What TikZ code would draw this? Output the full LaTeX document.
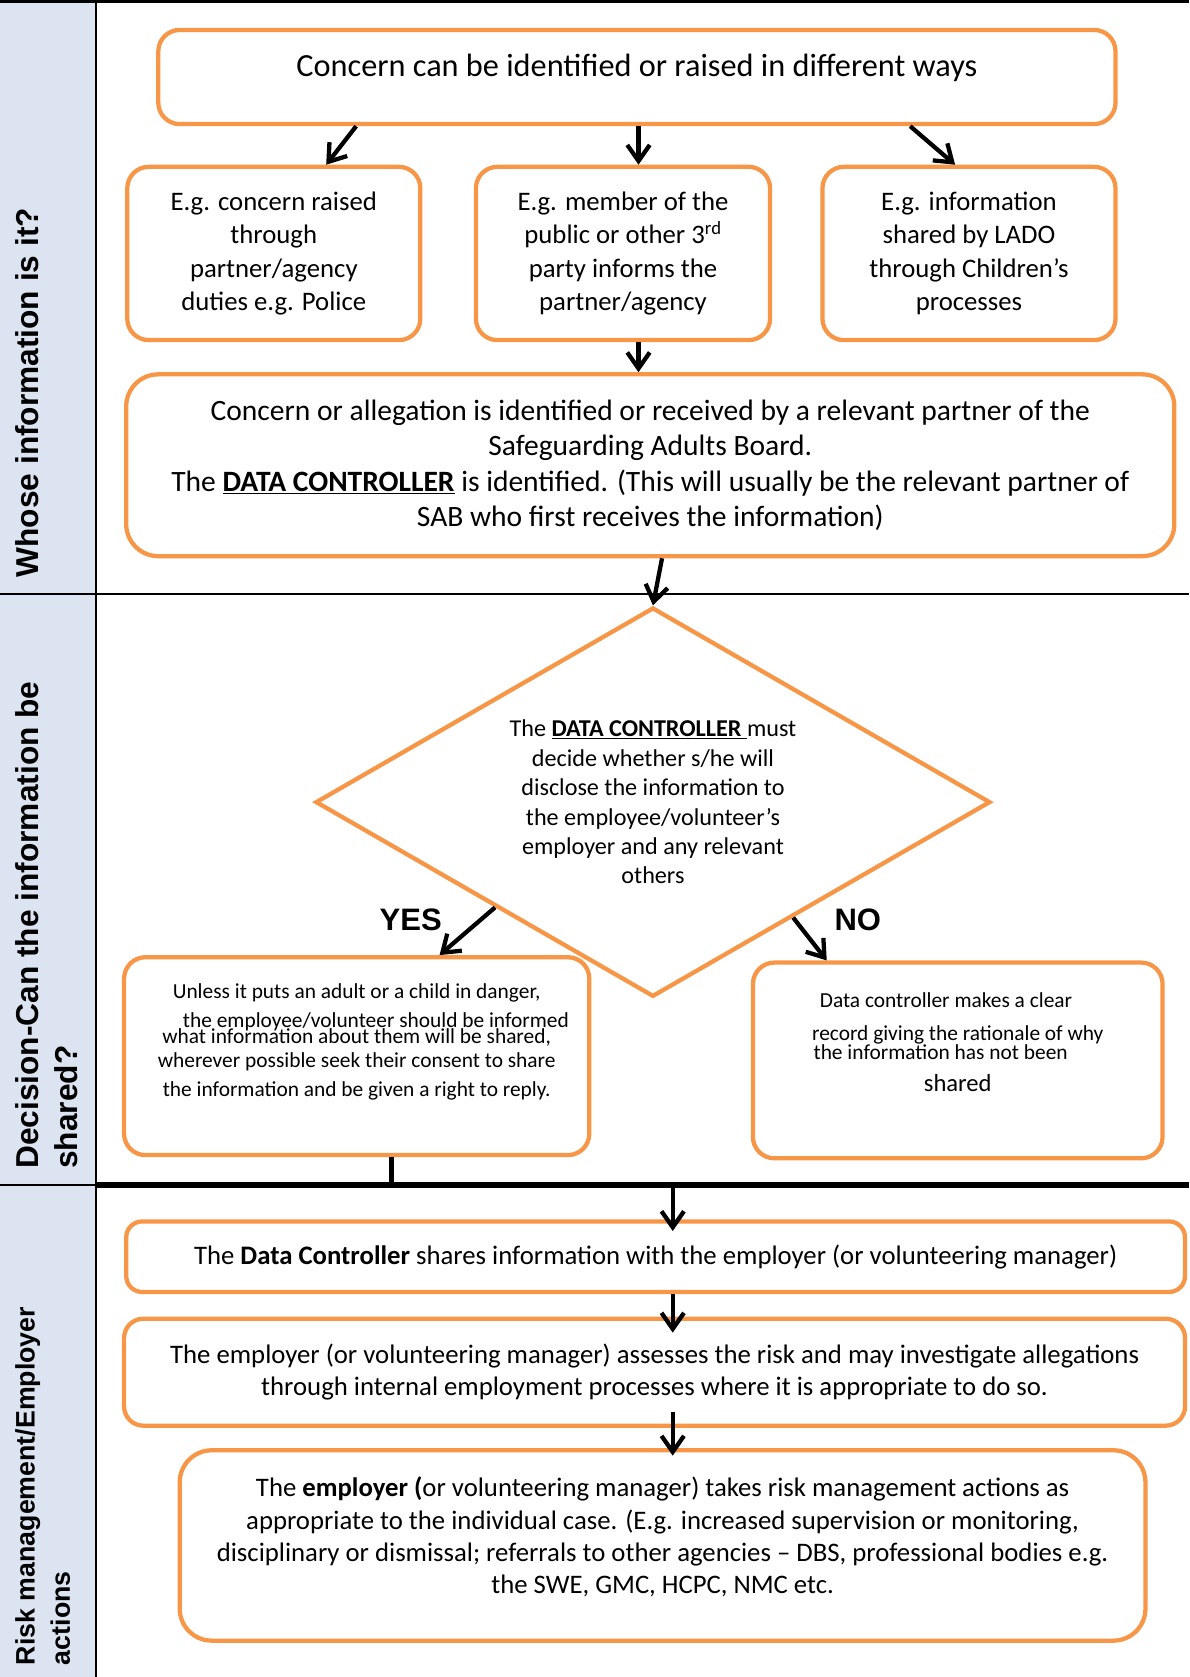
\documentclass[tikz,border=0pt]{standalone}
\usepackage{fontspec}
\setmainfont{Carlito}
\newfontfamily\arialfont{Liberation Sans}
\usetikzlibrary{shapes.geometric}
\usetikzlibrary{calc,arrows.meta}
\definecolor{naranja}{HTML}{F79646}
\definecolor{azulgris}{HTML}{DCE3F1}

\begin{document}
\begin{tikzpicture}[x=1pt,y=-1pt]
  % Definimos los estilos para las cajas, el rombo y las flechas
  \tikzstyle{caja} = [draw=naranja, line width=4pt, rounded corners=20pt, align=center, inner sep=0pt, font=\fontsize{25}{31}\selectfont];
  \tikzstyle{rombo} = [draw=naranja, line width=4pt, diamond, aspect=1.73, align=center, inner sep=0pt, font=\fontsize{22.6}{27.5}\selectfont];
  \tikzstyle{flecha} = [line width=4pt, -{Straight Barb[length=15pt,width=21pt]}];
  \tikzstyle{seccion} = [rotate=90, anchor=north west, align=left, inner sep=0pt, font=\arialfont\bfseries\fontsize{29.6}{37}\selectfont];
  \tikzstyle{respuesta} = [inner sep=0pt, font=\arialfont\bfseries\fontsize{29}{34}\selectfont];

  \useasboundingbox (0,0) rectangle (1112,1568);

  % Columna de las secciones y lineas separadoras
  \fill[azulgris] (0,0) rectangle (90,1568);
  \draw[line width=2pt] (90,0) -- (90,1568);
  \draw[line width=3pt] (0,1) -- (1112,1);
  \draw[line width=2pt] (0,555) -- (1112,555);
  \draw[line width=2pt] (0,1108) -- (90,1108);
  \draw[line width=5pt] (90,1108) -- (1112,1108);
  \coordinate (corte) at (366,1108);
  \coordinate (union) at (629,1108);

  % Etiquetas de las secciones
  \node[seccion] (quien) at (14,540) {Whose information is it?};
  \node[seccion] (decision) at (14,1093) {Decision-Can the information be\\shared?};
  \node[seccion, font=\arialfont\bfseries\fontsize{25}{33}\selectfont] (riesgo) at (14,1557) {Risk management/Employer\\actions};

  % Primera seccion: de donde viene la informacion
  \node[caja, minimum width=895pt, minimum height=88pt, text depth=22.5pt, font=\fontsize{30.2}{36}\selectfont] (inicio) at (595.5,72) {Concern can be identified or raised in different ways};
  \node[caja, minimum width=274pt, minimum height=162pt] (policia) at (256,237) {E.g. concern raised\\through\\partner/agency\\duties e.g. Police};
  \node[caja, minimum width=275pt, minimum height=162pt] (publico) at (582.5,237) {E.g. member of the\\public or other 3\textsuperscript{rd}\\party informs the\\partner/agency};
  \node[caja, minimum width=274pt, minimum height=162pt] (lado) at (906,237) {E.g. information\\shared by LADO\\through Children’s\\processes};
  \node[caja, minimum width=980pt, minimum height=170pt, rounded corners=30pt, font=\fontsize{27.6}{33}\selectfont] (socio) at (608,435) {Concern or allegation is identified or received by a relevant partner of the\\Safeguarding Adults Board.\\The \underline{\textbf{DATA CONTROLLER}} is identified. (This will usually be the relevant partner of\\SAB who first receives the information)};

  % Segunda seccion: la decision
  \node[rombo, minimum width=631pt, minimum height=364pt] (decide) at (610.5,750) {The \underline{\textbf{DATA CONTROLLER}\ }must\\decide whether s/he will\\disclose the information to\\the employee/volunteer’s\\employer and any relevant\\others};
  \node[caja, minimum width=435pt, minimum height=185pt, text depth=30pt, font=\fontsize{20}{24}\selectfont] (si) at (333.5,987.5) {Unless it puts an adult or a child in danger,\\[3pt]\hspace*{36pt}the employee/volunteer should be informed\\[-9pt]what information about them will be shared,\\[-1pt]wherever possible seek their consent to share\\[3pt]the information and be given a right to reply.};
  \node[caja, minimum width=383pt, minimum height=183pt, text depth=34pt, font=\fontsize{20}{22}\selectfont] (no) at (895.5,991.5) {Data controller makes a clear\hspace*{22pt}\mbox{}\\[8pt]record giving the rationale of why\\[-4pt]the information has not been\hspace*{32pt}\mbox{}\\[8pt]{\fontsize{23}{27}\selectfont shared}};
  \node[respuesta] (etiquetasi) at (384,860) {YES};
  \node[respuesta] (etiquetano) at (802,860) {NO};

  % Tercera seccion: acciones del empleador
  \node[caja, minimum width=990pt, minimum height=66pt, rounded corners=15pt] (comparte) at (613,1175) {The \textbf{Data Controller} shares information with the employer (or volunteering manager)};
  \node[caja, minimum width=992pt, minimum height=100pt, rounded corners=18pt, font=\fontsize{25}{30}\selectfont] (evalua) at (612,1283) {The employer (or volunteering manager) assesses the risk and may investigate allegations\\through internal employment processes where it is appropriate to do so.};
  \node[caja, minimum width=903pt, minimum height=178pt, rounded corners=30pt, text depth=19pt, font=\fontsize{25}{30.3}\selectfont] (acciones) at (619.5,1445) {The \textbf{employer (}or volunteering manager) takes risk management actions as\\appropriate to the individual case. (E.g. increased supervision or monitoring,\\disciplinary or dismissal; referrals to other agencies – DBS, professional bodies e.g.\\the SWE, GMC, HCPC, NMC etc.};

  % Flechas
  \draw[flecha] ([xshift=-262.5pt]inicio.south) -- ([xshift=49pt]policia.north);
  \draw[flecha] ([xshift=1.5pt]inicio.south) -- ([xshift=14.5pt]publico.north);
  \draw[flecha] ([xshift=255.5pt]inicio.south) -- ([xshift=-13pt]lado.north);
  \draw[flecha] ([xshift=14.5pt]publico.south) -- ([xshift=-11pt]socio.north);
  \draw[flecha] ([xshift=11pt]socio.south) -- (decide.north);
  \draw[flecha] ($(decide.west)!0.535!(decide.south)$) -- ([xshift=77.5pt]si.north);
  \draw[flecha] ($(decide.south)!0.413!(decide.east)$) -- ([xshift=-122.5pt]no.north);
  \draw[line width=5pt] ([xshift=32.5pt]si.south) -- (corte);
  \draw[flecha, shorten >=-11pt] (union) -- ([xshift=16pt]comparte.north);
  \draw[flecha, shorten >=-15pt] ([xshift=16pt]comparte.south) -- ([xshift=17pt]evalua.north);
  \draw[flecha, shorten <=-15pt, shorten >=-7pt] ([xshift=17pt]evalua.south) -- ([xshift=9.5pt]acciones.north);
\end{tikzpicture}
\end{document}
